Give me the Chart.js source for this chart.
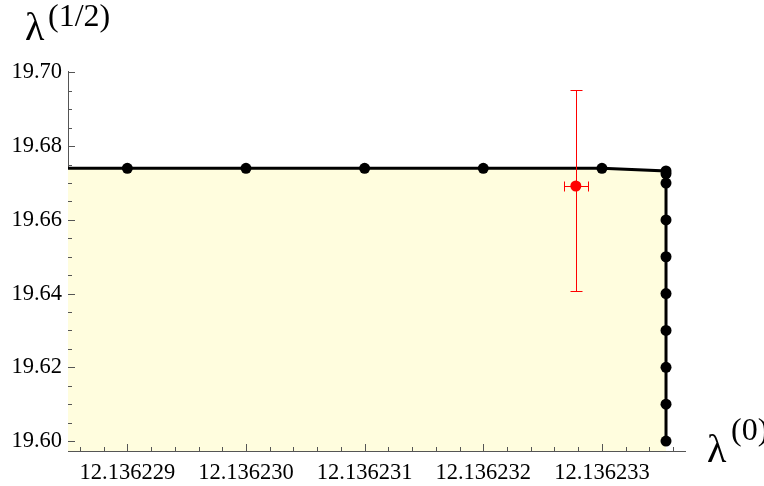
<!DOCTYPE html>
<html>
<head>
<meta charset="utf-8">
<script src="https://cdn.jsdelivr.net/npm/chart.js@4/dist/chart.umd.min.js"></script>
<style>
  html, body { margin: 0; padding: 0; background: #fff; }
  #wrap { width: 764px; height: 486px; position: relative; font-family: "Liberation Serif", serif; }
</style>
</head>
<body>
<div id="wrap"><canvas id="plot" width="764" height="486"></canvas></div>
<script>
// boundary curve (lambda0, lambda1/2)
const curveX = [12.1362285, 12.136229, 12.136230, 12.136231, 12.136232, 12.136233,
  12.13623354, 12.13623354, 12.13623354, 12.13623354, 12.13623354, 12.13623354,
  12.13623354, 12.13623354, 12.13623354, 12.13623354];
const curveY = [19.674, 19.674, 19.674, 19.674, 19.674, 19.674,
  19.6733, 19.6725, 19.670, 19.660, 19.650, 19.640, 19.630, 19.620, 19.610, 19.600];
// first point only extends the line to the axis, no marker
const curveMarker = [0, 5.5, 5.5, 5.5, 5.5, 5.5, 5.5, 5.5, 5.5, 5.5, 5.5, 5.5, 5.5, 5.5, 5.5, 5.5];

// measured point with error bars
const measX = [12.13623278];
const measY = [19.6692];
const measXErr = [0.0000001];
const measYLow = [19.6406];
const measYHigh = [19.6953];

const xTicks = [12.136229, 12.136230, 12.136231, 12.136232, 12.136233];
const yTicks = [19.60, 19.62, 19.64, 19.66, 19.68, 19.70];
const xRange = [12.1362285, 12.1362337];
const yRange = [19.5973, 19.7004];

const serif = '"Liberation Serif", "Times New Roman", serif';
const axisColor = '#555555';

const tickMarks = {
    id: 'tickMarks',
    afterDraw(chart) {
        const ctx = chart.ctx;
        const area = chart.chartArea;
        const xs = chart.scales.x, ys = chart.scales.y;
        ctx.save();
        ctx.strokeStyle = axisColor;
        ctx.lineWidth = 1;
        // x ticks (inward), minor every 0.2e-6
        for (let i = -3; i <= 27; i++) {
            const v = xTicks[0] + i * 0.0000002;
            if (v < xRange[0] || v > xRange[1]) continue;
            const px = Math.round(xs.getPixelForValue(v)) + 0.5;
            const len = (i % 5 === 0) ? 7 : 4;
            ctx.beginPath();
            ctx.moveTo(px, area.bottom);
            ctx.lineTo(px, area.bottom - len);
            ctx.stroke();
        }
        // y ticks (inward), minor every 0.005
        for (let i = 0; i <= 20; i++) {
            const v = yTicks[0] + i * 0.005;
            const py = Math.round(ys.getPixelForValue(v)) + 0.5;
            const len = (i % 4 === 0) ? 7 : 4;
            ctx.beginPath();
            ctx.moveTo(area.left, py);
            ctx.lineTo(area.left + len, py);
            ctx.stroke();
        }
        ctx.restore();

        // axis labels
        ctx.save();
        ctx.fillStyle = '#000';
        ctx.textBaseline = 'alphabetic';
        ctx.font = '40px ' + serif;
        ctx.fillText('\u03bb', 25, 40);
        ctx.font = '32px ' + serif;
        ctx.fillText('(1/2)', 48, 26);
        ctx.font = '40px ' + serif;
        ctx.fillText('\u03bb', 707, 462);
        ctx.font = '32px ' + serif;
        ctx.fillText('(0)', 731, 440);
        ctx.restore();
    }
};

const errorBars = {
    id: 'errorBars',
    afterDatasetsDraw(chart) {
        const ctx = chart.ctx;
        const xs = chart.scales.x, ys = chart.scales.y;
        ctx.save();
        ctx.strokeStyle = '#ff0000';
        ctx.lineWidth = 1;
        measX.forEach((x, i) => {
            const px = Math.round(xs.getPixelForValue(x)) + 0.5;
            const py = Math.round(ys.getPixelForValue(measY[i])) + 0.5;
            const top = Math.round(ys.getPixelForValue(measYHigh[i])) + 0.5;
            const bot = Math.round(ys.getPixelForValue(measYLow[i])) + 0.5;
            const left = Math.round(xs.getPixelForValue(x - measXErr[i])) + 0.5;
            const right = Math.round(xs.getPixelForValue(x + measXErr[i])) + 0.5;
            ctx.beginPath();
            ctx.moveTo(px, top); ctx.lineTo(px, bot);
            ctx.moveTo(px - 6, top); ctx.lineTo(px + 6, top);
            ctx.moveTo(px - 6, bot); ctx.lineTo(px + 6, bot);
            ctx.moveTo(left, py); ctx.lineTo(right, py);
            ctx.moveTo(left, py - 5); ctx.lineTo(left, py + 5);
            ctx.moveTo(right, py - 5); ctx.lineTo(right, py + 5);
            ctx.stroke();
        });
        ctx.restore();
    }
};

function drawChart() {
    const ctx = document.getElementById('plot').getContext('2d');
    new Chart(ctx, {
        type: 'scatter',
        data: {
            datasets: [{
                label: 'measured',
                data: measX.map((x, i) => ({ x: x, y: measY[i] })),
                backgroundColor: '#ff0000',
                borderColor: '#ff0000',
                pointRadius: 5.5,
                borderWidth: 0,
                clip: false
            }, {
                label: 'boundary',
                data: curveX.map((x, i) => ({ x: x, y: curveY[i] })),
                showLine: true,
                borderColor: '#000000',
                borderWidth: 3,
                backgroundColor: 'rgb(255, 253, 222)',
                pointBackgroundColor: '#000000',
                pointBorderWidth: 0,
                pointRadius: curveMarker,
                fill: 'start',
                tension: 0,
                clip: false
            }]
        },
        options: {
            responsive: false,
            animation: false,
            layout: { padding: { top: 71, right: 79, left: 0, bottom: 0 } },
            plugins: {
                legend: { display: false },
                tooltip: { enabled: false }
            },
            scales: {
                x: {
                    type: 'linear',
                    min: xRange[0],
                    max: xRange[1],
                    afterBuildTicks: (scale) => { scale.ticks = xTicks.map(v => ({ value: v })); },
                    afterFit: (scale) => { scale.height = 35; },
                    grid: { display: false, drawTicks: false },
                    border: { display: true, color: axisColor, width: 1 },
                    ticks: {
                        padding: 9,
                        color: '#000',
                        font: { family: serif, size: 22.5 },
                        maxRotation: 0,
                        callback: (v) => Number(v).toFixed(6)
                    }
                },
                y: {
                    type: 'linear',
                    min: yRange[0],
                    max: yRange[1],
                    afterBuildTicks: (scale) => { scale.ticks = yTicks.map(v => ({ value: v })); },
                    afterFit: (scale) => { scale.width = 68; },
                    grid: { display: false, drawTicks: false },
                    border: { display: true, color: axisColor, width: 1 },
                    ticks: {
                        padding: 6,
                        color: '#000',
                        font: { family: serif, size: 22.5 },
                        callback: (v) => Number(v).toFixed(2)
                    }
                }
            }
        },
        plugins: [tickMarks, errorBars]
    });
}

Promise.all([
    document.fonts.load('22px "Liberation Serif"'),
    document.fonts.load('40px "Liberation Serif"', '\u03bb')
]).then(drawChart, drawChart);
</script>
</body>
</html>
